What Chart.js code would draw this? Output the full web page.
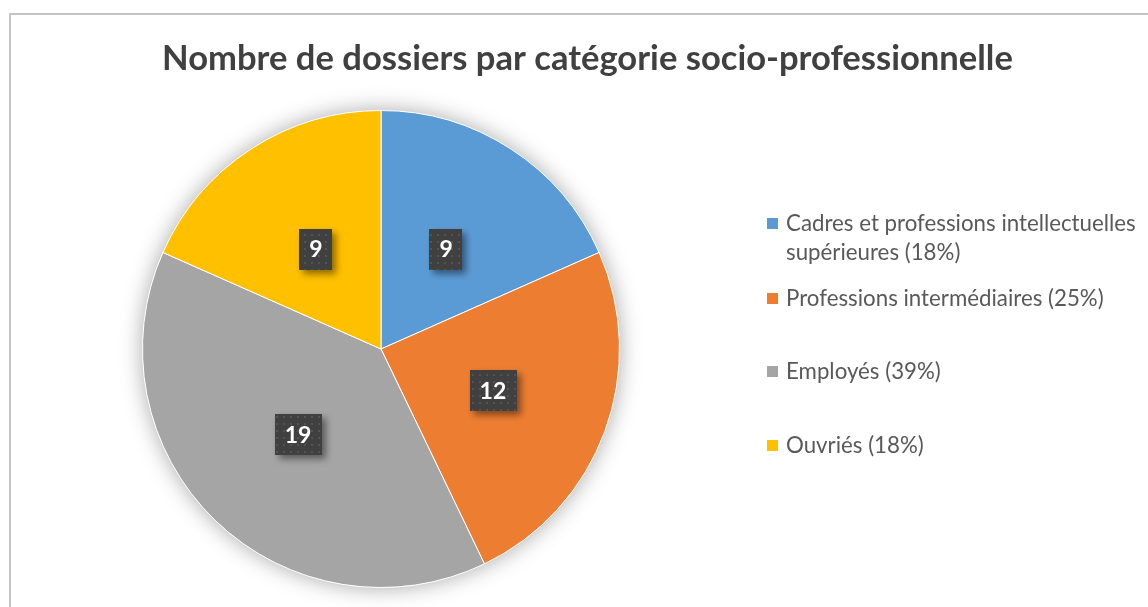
<!DOCTYPE html>
<html>
<head>
<meta charset="utf-8">
<script src="https://cdn.jsdelivr.net/npm/chart.js@4.4.1/dist/chart.umd.min.js"></script>
<style>
html,body{margin:0;padding:0;background:#fff;}
canvas{display:block;}
</style>
</head>
<body>
<canvas id="c" width="1148" height="607"></canvas>
<script>
const titleText = 'Nombre de dossiers par catégorie socio-professionnelle';
const categories = ['Cadres et professions intellectuelles supérieures', 'Professions intermédiaires', 'Employés', 'Ouvriés'];
const values = [9, 12, 19, 9];
const percentLabels = ['18%', '25%', '39%', '18%'];
const colors = ['#5B9BD5', '#ED7D31', '#A5A5A5', '#FFC000'];

const FONT = 'Lato, "Open Sans", sans-serif';

function makePattern(ctx) {
  const p = document.createElement('canvas');
  p.width = 7; p.height = 7;
  const g = p.getContext('2d');
  g.fillStyle = '#404040'; g.fillRect(0, 0, 7, 7);
  g.fillStyle = '#535353'; g.fillRect(3, 3, 2, 2);
  return ctx.createPattern(p, 'repeat');
}

function fitFont(ctx, text, weight, baseSize, targetWidth) {
  ctx.font = weight + ' ' + baseSize + 'px ' + FONT;
  const w = ctx.measureText(text).width;
  return baseSize * targetWidth / w;
}

function wrap(ctx, text, maxW) {
  const words = text.split(' ');
  const lines = [];
  let cur = '';
  for (const w of words) {
    const t = cur ? cur + ' ' + w : w;
    if (ctx.measureText(t).width > maxW && cur) { lines.push(cur); cur = w; }
    else cur = t;
  }
  if (cur) lines.push(cur);
  return lines;
}

const decor = {
  id: 'decor',
  beforeDatasetsDraw(chart) {
    const ctx = chart.ctx;
    const arc = chart.getDatasetMeta(0).data[0];
    if (!arc) return;
    ctx.save();
    ctx.shadowColor = 'rgba(0,0,0,0.35)';
    ctx.shadowBlur = 22;
    ctx.fillStyle = '#ffffff';
    ctx.beginPath();
    ctx.arc(arc.x, arc.y, arc.outerRadius, 0, Math.PI * 2);
    ctx.fill();
    ctx.restore();
  },
  afterDraw(chart) {
    const ctx = chart.ctx;
    ctx.save();
    // frame
    ctx.strokeStyle = '#C4C4C4';
    ctx.lineWidth = 2;
    ctx.strokeRect(10, 14, 1300, 800);

    // title
    const ts = fitFont(ctx, titleText, 'bold', 28, 851);
    ctx.font = 'bold ' + ts + 'px ' + FONT;
    ctx.fillStyle = '#404040';
    ctx.textAlign = 'center';
    ctx.textBaseline = 'middle';
    ctx.fillText(titleText, 587.5, 59);

    // legend
    const ls = fitFont(ctx, 'Cadres et professions intellectuelles', 'normal', 18, 350);
    ctx.font = 'normal ' + ls + 'px ' + FONT;
    ctx.textAlign = 'left';
    const itemY = [224, 299, 372, 446];
    categories.forEach((cat, i) => {
      const lines = wrap(ctx, cat + ' (' + percentLabels[i] + ')', 358);
      ctx.fillStyle = colors[i];
      ctx.fillRect(767, itemY[i] - 6, 11, 11);
      ctx.fillStyle = '#595959';
      lines.forEach((ln, j) => ctx.fillText(ln, 786, itemY[i] + j * 29));
    });

    // data labels
    const meta = chart.getDatasetMeta(0);
    const pat = makePattern(ctx);
    ctx.textAlign = 'center';
    meta.data.forEach((a, i) => {
      const mid = (a.startAngle + a.endAngle) / 2;
      const r = a.outerRadius * 0.5;
      const x = a.x + Math.cos(mid) * r;
      const y = a.y + Math.sin(mid) * r;
      const txt = String(values[i]);
      ctx.font = 'bold 23px ' + FONT;
      const tw = ctx.measureText(txt).width;
      const bw = tw + 20, bh = 41;
      ctx.save();
      ctx.shadowColor = 'rgba(0,0,0,0.45)';
      ctx.shadowBlur = 7;
      ctx.shadowOffsetX = 4;
      ctx.shadowOffsetY = 4;
      ctx.fillStyle = pat;
      ctx.fillRect(Math.round(x - bw / 2), Math.round(y - bh / 2), Math.round(bw), bh);
      ctx.restore();
      ctx.fillStyle = '#ffffff';
      ctx.fillText(txt, x, y + 1);
    });
    ctx.restore();
  }
};

new Chart(document.getElementById('c'), {
  type: 'pie',
  data: {
    labels: categories,
    datasets: [{
      data: values,
      backgroundColor: colors,
      borderColor: '#ffffff',
      borderWidth: 1,
      hoverOffset: 0
    }]
  },
  options: {
    responsive: false,
    animation: false,
    layout: { padding: { left: 142, right: 528, top: 110, bottom: 19 } },
    plugins: {
      legend: { display: false },
      title: { display: false },
      tooltip: { enabled: false }
    }
  },
  plugins: [decor]
});
</script>
</body>
</html>
